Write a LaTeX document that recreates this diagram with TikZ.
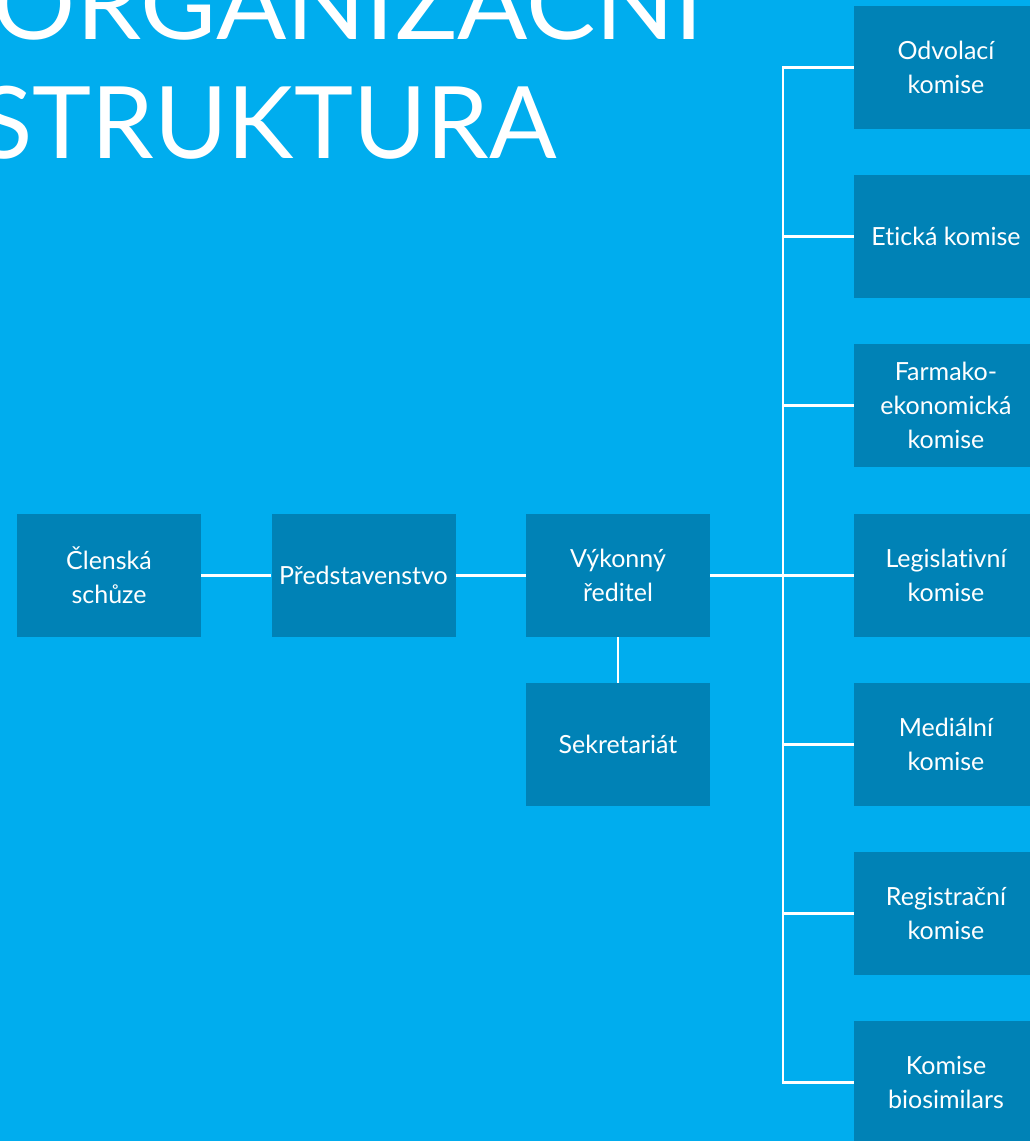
\documentclass[tikz,border=0pt]{standalone}
\usepackage{fontspec}
\setmainfont{Lato}[Ligatures=NoCommon]
\definecolor{bgc}{RGB}{0,173,238}
\definecolor{boxc}{RGB}{0,130,182}
\begin{document}
\begin{tikzpicture}[x=1pt,y=-1pt,
  orgbox/.style={fill=boxc, draw=none, minimum width=184pt, minimum height=123pt,
    inner sep=0pt, text=white, align=center, font=\fontsize{25}{34}\selectfont},
  link/.style={draw=white, line width=2.2pt},
  titletext/.style={text=white, inner sep=0pt, font=\fontsize{100}{110}\selectfont}]
\useasboundingbox (0,0) rectangle (1030,1141);
\clip (0,0) rectangle (1030,1141);
\fill[bgc] (0,0) rectangle (1030,1141);
% title
\node[titletext, anchor=base east, xscale=1.04] (t1) at (704,39) {ORGANIZAČNÍ};
\node[titletext, anchor=base east] (t2) at (557,158) {STRUKTURA};
% main chain
\node[orgbox] (clen) at (109,575.5) {Členská\\schůze};
\node[orgbox] (pred) at (363.5,575.5) {Představenstvo};
\node[orgbox] (vyk) at (618,575.5) {Výkonný\\ředitel};
\node[orgbox] (sek) at (618,744.5) {Sekretariát};
% committees
\node[orgbox] (odv) at (946,67.5) {Odvolací\\komise};
\node[orgbox] (eti) at (946,236.5) {Etická komise};
\node[orgbox] (far) at (946,405.5) {Farmako-\\ekonomická\\komise};
\node[orgbox] (leg) at (946,575.5) {Legislativní\\komise};
\node[orgbox] (med) at (946,744.5) {Mediální\\komise};
\node[orgbox] (reg) at (946,913.5) {Registrační\\komise};
\node[orgbox] (bio) at (946,1082.5) {Komise\\biosimilars};
% connectors
\draw[link] (clen.east) -- (pred.west);
\draw[link] (pred.east) -- (vyk.west);
\draw[link] (vyk.south) -- (sek.north);
\draw[link] (vyk.east) -- (leg.west);
\coordinate (trtop) at (783,67.5);
\coordinate (trbot) at (783,1082.5);
\draw[link, line cap=rect] (trtop) -- (trbot);
\foreach \n in {odv,eti,far,med,reg,bio}{
  \draw[link] (\n.west) -- (\n.west -| trtop);
}
\end{tikzpicture}
\end{document}
